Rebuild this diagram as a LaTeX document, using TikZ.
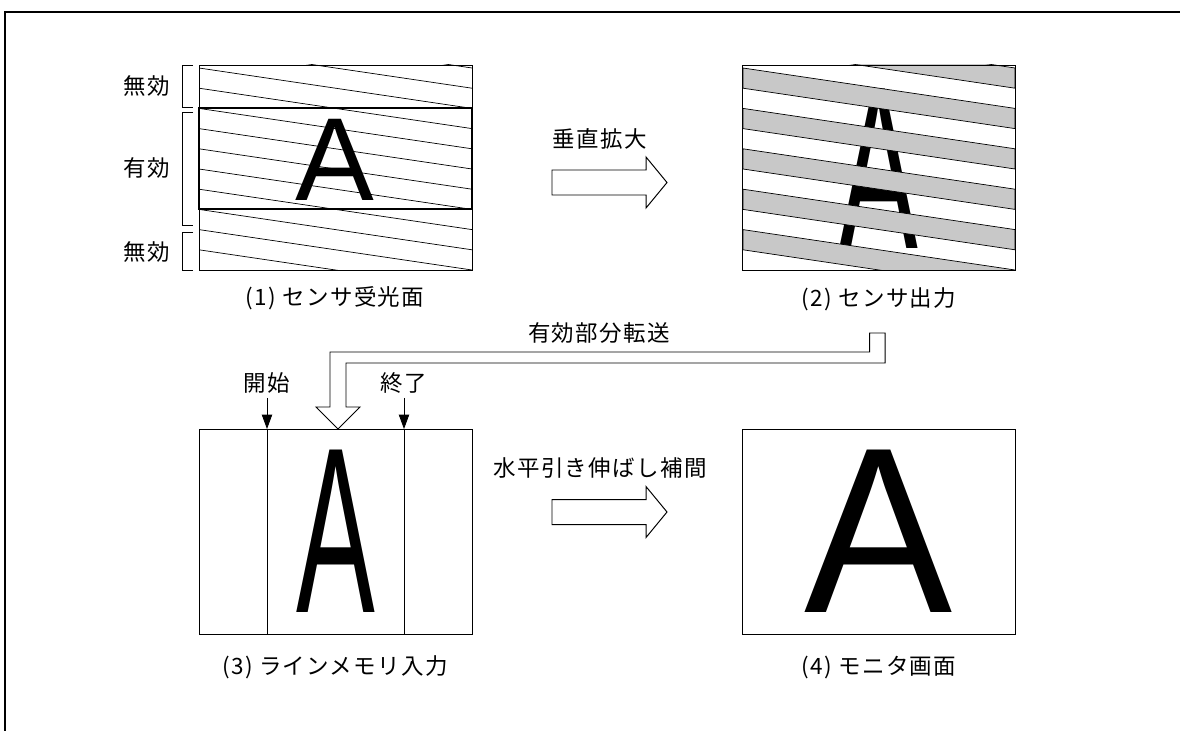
\documentclass[tikz,border=0pt]{standalone}
\usepackage{fontspec}
\usetikzlibrary{arrows.meta}
\newfontfamily\jpfont[LetterSpace=6]{Noto Sans CJK JP}
\newfontfamily\glyphfont{Liberation Sans}
\definecolor{bandgray}{HTML}{C8C8C8}
\tikzset{
  frame/.style={draw=black, line width=1.2pt},
  panel/.style={draw=black, line width=0.7pt, minimum width=6.825cm, minimum height=5.125cm, inner sep=0pt},
  divline/.style={draw=black, line width=0.7pt},
  hatch/.style={draw=black, line width=0.5pt},
  band/.style={fill=bandgray, draw=black, line width=0.5pt},
  validbox/.style={draw=black, line width=1.5pt},
  brk/.style={draw=black, line width=0.7pt},
  blockarrow/.style={draw=black, fill=white, line width=0.7pt, line join=miter},
  ptr/.style={-{Triangle[length=3.6mm,width=2.6mm]}, draw=black, line width=0.6pt},
  lbl/.style={font=\jpfont\fontsize{16pt}{19pt}\selectfont, inner sep=0pt},
  bigA/.style={font=\glyphfont\fontsize{84pt}{90pt}\selectfont, inner sep=0pt, anchor=base},
}
\begin{document}
\begin{tikzpicture}[x=1cm,y=1cm]
  \clip (0,0) rectangle (29.500,-18.275);
  \draw[frame] (29.600,-0.300) -- (0.125,-0.300) -- (0.125,-18.400);
  \node[bigA] (a1) at (8.375,-5.000) {A};
  \begin{scope}
    \clip (4.975,-1.625) rectangle (11.800,-6.750);
    \draw[hatch] (4.975,-0.690) -- (11.800,-1.700);
    \draw[hatch] (4.975,-1.195) -- (11.800,-2.205);
    \draw[hatch] (4.975,-1.700) -- (11.800,-2.710);
    \draw[hatch] (4.975,-2.205) -- (11.800,-3.215);
    \draw[hatch] (4.975,-2.710) -- (11.800,-3.720);
    \draw[hatch] (4.975,-3.215) -- (11.800,-4.225);
    \draw[hatch] (4.975,-3.720) -- (11.800,-4.730);
    \draw[hatch] (4.975,-4.225) -- (11.800,-5.235);
    \draw[hatch] (4.975,-4.730) -- (11.800,-5.740);
    \draw[hatch] (4.975,-5.235) -- (11.800,-6.245);
    \draw[hatch] (4.975,-5.740) -- (11.800,-6.750);
    \draw[hatch] (4.975,-6.245) -- (11.800,-7.255);
  \end{scope}
  \draw[validbox] (4.975,-2.710) rectangle (11.800,-5.235);
  \node[panel] (p1) at (8.388,-4.188) {};
  \node[bigA] (a2) at (21.975,-6.200) {\scalebox{1}[1.964]{A}};
  \begin{scope}
    \clip (18.575,-1.625) rectangle (25.375,-6.750);
    \draw[band] (18.575,-0.690) -- (25.375,-1.700) -- (25.375,-2.205) -- (18.575,-1.195) -- cycle;
    \draw[band] (18.575,-1.700) -- (25.375,-2.710) -- (25.375,-3.215) -- (18.575,-2.205) -- cycle;
    \draw[band] (18.575,-2.710) -- (25.375,-3.720) -- (25.375,-4.225) -- (18.575,-3.215) -- cycle;
    \draw[band] (18.575,-3.720) -- (25.375,-4.730) -- (25.375,-5.235) -- (18.575,-4.225) -- cycle;
    \draw[band] (18.575,-4.730) -- (25.375,-5.740) -- (25.375,-6.245) -- (18.575,-5.235) -- cycle;
    \draw[band] (18.575,-5.740) -- (25.375,-6.750) -- (25.375,-7.255) -- (18.575,-6.245) -- cycle;
  \end{scope}
  \node[panel] (p2) at (21.975,-4.188) {};
  \node[lbl] (inv1) at (3.675,-2.150) {無効};
  \node[lbl] (val) at (3.675,-4.200) {有効};
  \node[lbl] (inv2) at (3.675,-6.300) {無効};
  \draw[brk] (4.825,-1.625) -- (4.550,-1.625) -- (4.550,-2.675) -- (4.825,-2.675);
  \draw[brk] (4.825,-2.800) -- (4.550,-2.800) -- (4.550,-5.625) -- (4.825,-5.625);
  \draw[brk] (4.825,-5.800) -- (4.550,-5.800) -- (4.550,-6.750) -- (4.825,-6.750);
  \node[lbl] (cap1) at (8.375,-7.450) {(1) センサ受光面};
  \node[lbl] (cap2) at (21.975,-7.475) {(2) センサ出力};
  \node[lbl] (vexp) at (15.000,-3.475) {垂直拡大};
  \draw[blockarrow] (13.800,-4.250) -- (16.150,-4.250) -- (16.150,-3.925) -- (16.675,-4.563) -- (16.150,-5.200) -- (16.150,-4.875) -- (13.800,-4.875) -- cycle;
  \node[lbl] (xfer) at (14.975,-8.313) {有効部分転送};
  \draw[blockarrow] (8.250,-10.175) -- (8.250,-8.800) -- (21.738,-8.800) -- (21.738,-8.325) -- (22.125,-8.325) -- (22.125,-9.075) -- (8.650,-9.075) -- (8.650,-10.175) -- (9.000,-10.175) -- (8.450,-10.725) -- (7.900,-10.175) -- cycle;
  \node[bigA] (a3) at (8.388,-15.300) {\scalebox{1}[2]{A}};
  \node[panel] (p3) at (8.388,-13.288) {};
  \coordinate (startpt) at (6.675,-10.725);
  \coordinate (endpt) at (10.100,-10.725);
  \draw[divline] (startpt) -- (startpt |- p3.south);
  \draw[divline] (endpt) -- (endpt |- p3.south);
  \node[lbl] (startlbl) at (6.675,-9.575) {開始};
  \node[lbl] (endlbl) at (10.100,-9.575) {終了};
  \draw[ptr, shorten <=3pt] (startlbl) -- (startpt);
  \draw[ptr, shorten <=3pt] (endlbl) -- (endpt);
  \node[lbl] (hexp) at (15.000,-11.700) {水平引き伸ばし補間};
  \draw[blockarrow] (13.800,-12.488) -- (16.150,-12.488) -- (16.150,-12.163) -- (16.675,-12.800) -- (16.150,-13.438) -- (16.150,-13.113) -- (13.800,-13.113) -- cycle;
  \node[bigA] (a4) at (21.963,-15.300) {\scalebox{1.88}[2]{A}};
  \node[panel] (p4) at (21.975,-13.288) {};
  \node[lbl] (cap3) at (8.375,-16.675) {(3) ラインメモリ入力};
  \node[lbl] (cap4) at (21.975,-16.675) {(4) モニタ画面};
\end{tikzpicture}
\end{document}
